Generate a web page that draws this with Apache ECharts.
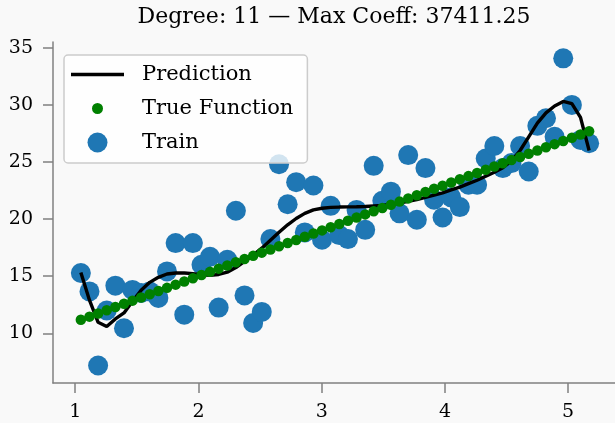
<!DOCTYPE html>
<html>
<head>
<meta charset="utf-8">
<script src="https://cdn.jsdelivr.net/npm/echarts@6/dist/echarts.min.js"></script>
<style>
  html, body { margin: 0; padding: 0; background: #f9f9f9; }
  #chart { width: 615px; height: 423px; }
</style>
</head>
<body>
<div id="chart"></div>
<script>
// Sample positions shared by the training set, the true function and the fitted curve
const xs = [
  1.046, 1.116, 1.186, 1.256, 1.326, 1.396, 1.465, 1.535, 1.605, 1.675,
  1.745, 1.815, 1.885, 1.955, 2.025, 2.094, 2.164, 2.234, 2.304, 2.374,
  2.444, 2.514, 2.584, 2.654, 2.724, 2.793, 2.863, 2.933, 3.003, 3.073,
  3.143, 3.213, 3.283, 3.353, 3.422, 3.492, 3.562, 3.632, 3.702, 3.772,
  3.842, 3.912, 3.981, 4.051, 4.121, 4.191, 4.261, 4.331, 4.401, 4.470,
  4.540, 4.610, 4.680, 4.750, 4.820, 4.890, 4.960, 5.030, 5.100, 5.170
];

// Noisy training observations
const trainY = [
  15.28, 13.67, 7.18, 12.00, 14.17, 10.44, 13.80, 13.53, 13.67, 13.10,
  15.42, 17.90, 11.63, 17.90, 16.00, 16.70, 12.25, 16.44, 20.73, 13.32,
  10.90, 11.87, 18.25, 24.80, 21.30, 23.23, 18.83, 22.94, 18.19, 21.16,
  18.60, 18.25, 20.80, 19.06, 24.66, 21.60, 22.40, 20.50, 25.60, 19.94,
  24.46, 21.69, 20.14, 21.90, 21.05, 23.00, 23.00, 25.30, 26.40, 24.46,
  24.90, 26.40, 24.16, 28.16, 28.83, 27.20, 34.07, 29.99, 26.93, 26.64
];

// Underlying function values
const trueY = [
  11.18, 11.46, 11.74, 12.02, 12.30, 12.58, 12.86, 13.14, 13.42, 13.70,
  13.98, 14.26, 14.54, 14.82, 15.10, 15.38, 15.66, 15.94, 16.22, 16.50,
  16.78, 17.06, 17.34, 17.62, 17.90, 18.17, 18.45, 18.73, 19.01, 19.29,
  19.57, 19.85, 20.13, 20.41, 20.69, 20.97, 21.25, 21.53, 21.81, 22.09,
  22.37, 22.65, 22.92, 23.20, 23.48, 23.76, 24.04, 24.32, 24.60, 24.88,
  25.16, 25.44, 25.72, 26.00, 26.28, 26.56, 26.84, 27.12, 27.40, 27.68
];

// Degree-11 polynomial prediction
const predY = [
  15.33, 12.90, 10.96, 10.60, 11.26, 11.78, 12.80, 13.76, 14.46, 14.90,
  15.19, 15.28, 15.28, 15.22, 15.13, 15.07, 15.15, 15.35, 15.75, 16.30,
  16.85, 17.45, 18.15, 18.85, 19.50, 20.05, 20.50, 20.80, 20.95, 21.02,
  21.05, 21.07, 21.08, 21.10, 21.15, 21.20, 21.30, 21.40, 21.55, 21.70,
  21.90, 22.10, 22.30, 22.55, 22.80, 23.10, 23.40, 23.75, 24.10, 24.50,
  25.10, 26.00, 27.20, 28.40, 29.30, 29.90, 30.30, 30.10, 28.90, 26.00
];

const xTicks = [1, 2, 3, 4, 5];
const yTicks = [10, 15, 20, 25, 30, 35];

const titleText = 'Degree: 11 \u2014 Max Coeff: 37411.25';

const pairs = (ys) => xs.map((x, i) => [x, ys[i]]);

const serif = 'DejaVu Serif';
const spine = '#808080';

const chart = echarts.init(document.getElementById('chart'), null, { renderer: 'canvas' });

chart.setOption({
  backgroundColor: '#f9f9f9',
  animation: false,
  title: {
    text: titleText,
    left: 334,
    top: 6,
    padding: 0,
    textAlign: 'center',
    textStyle: { fontFamily: serif, fontSize: 22, fontWeight: 'normal', color: '#000' }
  },
  grid: { left: 53, right: 0, top: 42, bottom: 40, containLabel: false },
  xAxis: {
    type: 'value',
    min: 0.82,
    max: 5.38,
    splitLine: { show: false },
    axisLine: { onZero: false, lineStyle: { color: spine, width: 1.5 } },
    axisTick: { show: true, length: 10, customValues: xTicks, lineStyle: { color: spine, width: 1.5 } },
    axisLabel: { customValues: xTicks, margin: 20, fontFamily: serif, fontSize: 19, color: '#000' }
  },
  yAxis: {
    type: 'value',
    min: 5.65,
    max: 35.5,
    splitLine: { show: false },
    axisLine: { show: true, onZero: false, lineStyle: { color: spine, width: 1.5 } },
    axisTick: { show: true, length: 10, customValues: yTicks, lineStyle: { color: spine, width: 1.5 } },
    axisLabel: { customValues: yTicks, margin: 20, fontFamily: serif, fontSize: 19, color: '#000' }
  },
  legend: {
    orient: 'vertical',
    left: 64,
    top: 55,
    selectedMode: false,
    itemWidth: 53,
    itemHeight: 20,
    itemGap: 9,
    padding: [9, 14, 10, 7],
    backgroundColor: 'rgba(255,255,255,0.8)',
    borderColor: '#cccccc',
    borderWidth: 1.5,
    borderRadius: 4,
    textStyle: { fontFamily: serif, fontSize: 21, color: '#000', padding: [0, 0, 0, 13] },
    data: [
      { name: 'Prediction', icon: 'path://M0,0H530V34H0Z', itemStyle: { color: '#000' } },
      { name: 'True Function', itemStyle: { borderColor: '#fefefe', borderWidth: 9 } },
      { name: 'Train' }
    ]
  },
  series: [
    {
      name: 'Train',
      type: 'scatter',
      data: pairs(trainY),
      symbol: 'circle',
      symbolSize: 20,
      itemStyle: { color: '#1f77b4', opacity: 1 },
      z: 2
    },
    {
      name: 'Prediction',
      type: 'line',
      data: pairs(predY),
      symbol: 'none',
      smooth: false,
      lineStyle: { color: '#000', width: 3.4 },
      itemStyle: { color: '#000' },
      z: 3
    },
    {
      name: 'True Function',
      type: 'scatter',
      data: pairs(trueY),
      symbol: 'circle',
      symbolSize: 10.5,
      itemStyle: { color: '#008000', opacity: 1 },
      z: 3
    }
  ]
});
</script>
</body>
</html>
